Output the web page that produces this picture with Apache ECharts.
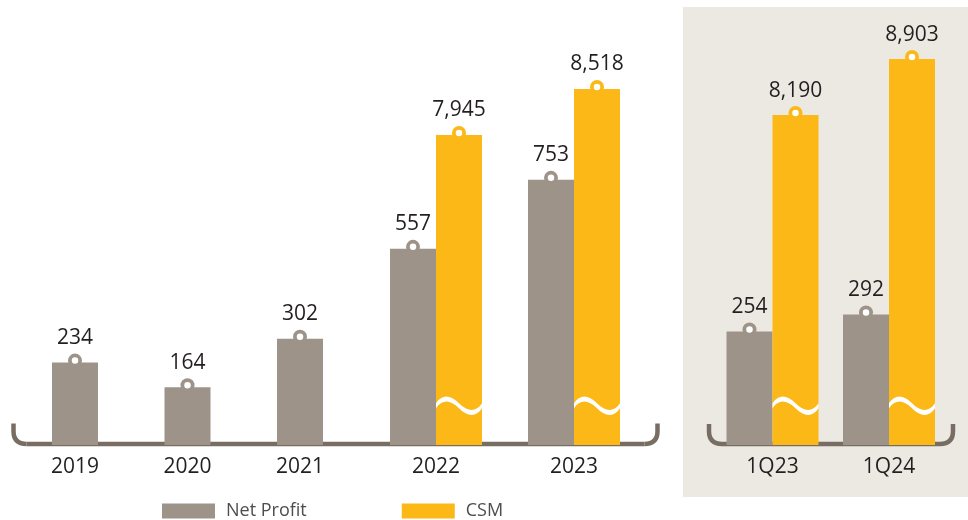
<!DOCTYPE html>
<html>
<head>
<meta charset="utf-8">
<script src="https://cdn.jsdelivr.net/npm/echarts@6/dist/echarts.min.js"></script>
<style>
  html, body { margin: 0; padding: 0; background: #ffffff; }
  #chart { width: 968px; height: 520px; }
</style>
</head>
<body>
<div id="chart"></div>
<script>
// ---- Data ----
var yearCategories = ['2019', '2020', '2021'];
var yearNetProfit = [234, 164, 302];
var recentCategories = ['2022', '2023'];
var recentNetProfit = [557, 753];
var recentCSM = [7945, 8518];
var quarterCategories = ['1Q23', '1Q24'];
var quarterNetProfit = [254, 292];
var quarterCSM = [8190, 8903];
var seriesNames = ['Net Profit', 'CSM'];

// ---- Styles ----
var GRAY = '#9d9389';
var YELLOW = '#fbb817';
var AXIS = '#786d63';
var TEXT = '#231f20';
var FONT = 'Open Sans';
var BAR_W = 46;

function fmt(p) { return Number(p.value).toLocaleString('en-US'); }

var valueLabel = {
  show: true, position: 'top', distance: 14,
  fontFamily: FONT, fontSize: 21, fontWeight: 500, color: TEXT, formatter: fmt
};

function barSeries(name, x, y, data, color) {
  return {
    type: 'bar', name: name, xAxisIndex: x, yAxisIndex: y, data: data,
    barWidth: BAR_W, barGap: 0, itemStyle: { color: color },
    label: valueLabel, z: 2
  };
}
// coloured tab circle sitting on top of each bar
function tabSeries(name, x, y, data, color) {
  return {
    type: 'pictorialBar', name: name, xAxisIndex: x, yAxisIndex: y, data: data,
    barWidth: BAR_W, barGap: 0,
    symbol: 'circle', symbolSize: 14, symbolPosition: 'end', symbolOffset: [0, -9],
    itemStyle: { color: color }, z: 3, silent: true
  };
}
// white hole of the tab
function dotSeries(name, x, y, data) {
  return {
    type: 'pictorialBar', name: name, xAxisIndex: x, yAxisIndex: y, data: data,
    barWidth: BAR_W, barGap: 0,
    symbol: 'circle', symbolSize: 6.5, symbolPosition: 'end', symbolOffset: [0, -5.25],
    itemStyle: { color: '#ffffff' }, z: 4, silent: true
  };
}
var WAVE = 'path://M0,5.5 C6,-3.5 14,-3.5 23,5.5 C32,14.5 40,14.5 46,5.5 L46,10.5 C40,19.5 32,19.5 23,10.5 C14,1.5 6,1.5 0,10.5 Z';
function waveSeries(name, x, y, data) {
  return {
    type: 'pictorialBar', name: name, xAxisIndex: x, yAxisIndex: y, data: data,
    barWidth: BAR_W, barGap: 0,
    symbol: WAVE, symbolSize: [BAR_W, 18.5], symbolPosition: 'start', symbolOffset: [0, -30],
    itemStyle: { color: '#ffffff' }, z: 4, silent: true
  };
}
function dummySeries(name, x, y, n) {
  var d = []; for (var i = 0; i < n; i++) d.push('-');
  return { type: 'pictorialBar', name: name, xAxisIndex: x, yAxisIndex: y, data: d,
    barWidth: BAR_W, barGap: 0, symbol: 'rect', silent: true };
}

function catAxis(grid, data, show) {
  return {
    type: 'category', gridIndex: grid, data: data, show: show,
    axisLine: { show: false }, axisTick: { show: false }, splitLine: { show: false },
    axisLabel: { margin: 12, fontFamily: FONT, fontSize: 21, fontWeight: 500, color: TEXT }
  };
}
function valAxis(grid, min, max, breakEnd) {
  var a = { type: 'value', gridIndex: grid, min: min, max: max, show: false, splitLine: { show: false } };
  if (breakEnd) {
    a.breaks = [{ start: 0, end: breakEnd, gap: 0 }];
    a.breakArea = { show: false };
  }
  return a;
}

// bracket-shaped baseline decoration
function bracket(xl, xr, yt, yb, r) {
  var st = { fill: 'none', stroke: AXIS, lineWidth: 4.5 };
  return {
    type: 'group', z: 100, silent: true,
    children: [
      { type: 'line', shape: { x1: xl, y1: yt, x2: xl, y2: yb - r }, style: st },
      { type: 'bezierCurve', shape: { x1: xl, y1: yb - r, x2: xl + r, y2: yb, cpx1: xl, cpy1: yb }, style: st },
      { type: 'line', shape: { x1: xl + r, y1: yb, x2: xr - r, y2: yb }, style: st },
      { type: 'bezierCurve', shape: { x1: xr - r, y1: yb, x2: xr, y2: yb - r, cpx1: xr, cpy1: yb }, style: st },
      { type: 'line', shape: { x1: xr, y1: yb - r, x2: xr, y2: yt }, style: st }
    ]
  };
}

var option = {
  animation: false,
  backgroundColor: '#ffffff',
  graphic: [
    { type: 'rect', z: -10, silent: true, shape: { x: 683, y: 7, width: 285, height: 490 }, style: { fill: '#ece9e3' } },
    bracket(13.5, 657.5, 423.5, 444, 13),
    bracket(709, 953, 424, 444, 13)
  ],
  legend: {
    data: [{ name: seriesNames[0], icon: 'rect' }, { name: seriesNames[1], icon: 'rect' }],
    left: 157, top: 497, itemWidth: 53, itemHeight: 15, itemGap: 95,
    textStyle: { fontFamily: FONT, fontSize: 18, color: '#4d4d4d', padding: [0, 0, 0, 6] },
    selectedMode: false
  },
  grid: [
    { left: 18.75, width: 337.5, top: 45, height: 400 },
    { left: 367, width: 276, top: 45, height: 400 },
    { left: 714.25, width: 233, top: 45, height: 400 }
  ],
  xAxis: [
    catAxis(0, yearCategories, true),      // 0
    catAxis(1, recentCategories, true),    // 1
    catAxis(2, quarterCategories, true),   // 2
    catAxis(0, yearCategories, false),     // 3 dots grid0
    catAxis(1, recentCategories, false),   // 4 dots grid1
    catAxis(2, quarterCategories, false),  // 5 dots grid2
    catAxis(1, recentCategories, false),   // 6 waves grid1
    catAxis(2, quarterCategories, false)   // 7 waves grid2
  ],
  yAxis: [
    valAxis(0, 0, 1136),
    valAxis(1, 0, 1136),
    valAxis(1, 0, 9065, 4084),
    valAxis(2, 0, 895),
    valAxis(2, 0, 9082, 3986)
  ],
  series: [
    barSeries(seriesNames[0], 0, 0, yearNetProfit, GRAY),
    tabSeries('tabNP0', 0, 0, yearNetProfit, GRAY),
    dotSeries('dotNP0', 3, 0, yearNetProfit),

    barSeries(seriesNames[0], 1, 1, recentNetProfit, GRAY),
    barSeries(seriesNames[1], 1, 2, recentCSM, YELLOW),
    tabSeries('tabNP1', 1, 1, recentNetProfit, GRAY),
    tabSeries('tabCSM1', 1, 2, recentCSM, YELLOW),
    dotSeries('dotNP1', 4, 1, recentNetProfit),
    dotSeries('dotCSM1', 4, 2, recentCSM),
    dummySeries('dummy1', 6, 1, recentCSM.length),
    waveSeries('wave1', 6, 2, recentCSM),

    barSeries(seriesNames[0], 2, 3, quarterNetProfit, GRAY),
    barSeries(seriesNames[1], 2, 4, quarterCSM, YELLOW),
    tabSeries('tabNP2', 2, 3, quarterNetProfit, GRAY),
    tabSeries('tabCSM2', 2, 4, quarterCSM, YELLOW),
    dotSeries('dotNP2', 5, 3, quarterNetProfit),
    dotSeries('dotCSM2', 5, 4, quarterCSM),
    dummySeries('dummy2', 7, 3, quarterCSM.length),
    waveSeries('wave2', 7, 4, quarterCSM)
  ]
};

var chart = echarts.init(document.getElementById('chart'), null, { renderer: 'canvas' });
chart.setOption(option);
</script>
</body>
</html>
